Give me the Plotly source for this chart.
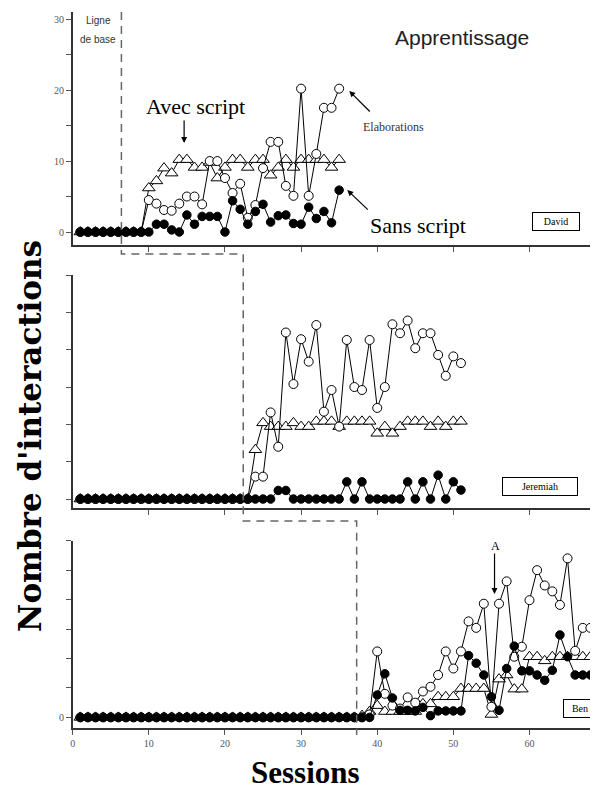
import plotly.graph_objects as go

# ---------------- data ----------------
david_sessions = list(range(1, 36))
david_sans = [0]*10 + [1.1, 1.1, 0.3, 0, 2.4, 1.1, 2.2, 2.2, 2.2, 0, 4.4, 3.2, 1.1, 2.9, 3.9,
                       1.4, 2.3, 2.4, 1.2, 1.1, 3.5, 1.9, 2.9, 1.3, 5.9]
david_elab = [0]*9 + [4.5, 4.0, 3.1, 3.0, 4.0, 5.0, 5.0, 3.9, 10.0, 10.0, 7.6, 5.5, 6.8, 2.0, 3.8,
                      9.0, 12.7, 12.7, 6.5, 5.1, 20.2, 5.1, 11.0, 17.5, 17.5, 20.2]
david_avec = [0]*9 + [6.2, 7.2, 9.0, 8.3, 10.2, 10.2, 9.1, 9.1, 9.8, 7.6, 9.1, 10.2, 10.2, 9.1, 10.2,
                      10.2, 8.0, 9.1, 10.2, 9.1, 10.2, 10.2, 10.2, 10.2, 9.1, 10.2]

jer_sessions = list(range(1, 52))
jer_sans = [0]*26 + [1.15, 1.15] + [0]*7 + [2.3, 0, 2.3, 0, 0, 0, 0, 0, 2.3, 0, 2.3, 0, 3.2, 0, 2.3, 1.2]
jer_elab = [0]*23 + [3.0, 3.0, 11.6, 7.0, 22.3, 15.4, 21.4, 18.4, 23.3, 11.7, 14.6, 9.7, 21.3,
                     15.0, 14.6, 21.3, 12.2, 15.0, 23.4, 22.2, 23.9, 20.2, 22.2, 22.2, 19.3, 16.5, 19.1, 18.2]
jer_avec = [0]*23 + [6.6, 10.2, 9.7, 9.7, 9.7, 10.2, 9.7, 9.7, 10.4, 10.4, 10.4, 9.7, 10.4,
                     10.4, 10.4, 10.4, 8.8, 9.7, 8.8, 9.7, 10.4, 10.4, 10.4, 9.7, 10.4, 9.7, 10.4, 10.4]

ben_sessions = list(range(1, 69))
ben_sans = [0]*39 + [3.8, 7.4, 3.3, 1.2, 1.2, 1.1, 1.7, 0.3, 1.1, 1.1, 1.1, 1.1, 10.5, 9.2, 7.2,
                     3.5, 1.2, 8.3, 12.1, 7.9, 7.9, 7.2, 6.3, 8.0, 14.0, 10.3, 7.2, 7.2, 7.2]
ben_elab = [0]*38 + [0.5, 11.2, 4.0, 2.0, 1.5, 3.4, 2.5, 4.4, 5.2, 7.2, 11.2, 8.3, 11.2, 16.3, 15.2,
                     19.3, 1.8, 19.3, 23.1, 10.3, 12.0, 19.9, 25.0, 22.4, 21.4, 19.1, 27.0, 11.3, 15.2, 15.2]
ben_avec = [0]*37 + [0.3, 1.0, 2.0, 1.0, 1.0, 1.0, 1.0, 1.0, 2.3, 2.3, 3.5, 3.5, 3.5, 4.9, 4.9, 4.9,
                     4.9, 0.5, 6.5, 7.2, 4.8, 4.8, 10.3, 10.3, 9.6, 10.3, 10.3, 10.3, 10.3, 10.3, 10.3]

y_tick_vals = [0, 5, 10, 15, 20, 25, 30]
y_tick_text_top = ["0", "", "10", "", "20", "", "30"]
y_tick_text_bottom = ["0", "", "", "", "", "", ""]
x_tick_vals = [0, 10, 20, 30, 40, 50, 60]
phase_changes = [6.4, 22.4, 37.3]

# ---------------- figure ----------------
OFF = 8  # page body margin
W, H = 598 - OFF, 791 - OFF
def PX(x):
    return (x - OFF) / W
def PY(y):
    return 1 - (y - OFF) / H

fig = go.Figure()

panels = [
    (david_sessions, david_avec, david_elab, david_sans, "x", "y"),
    (jer_sessions, jer_avec, jer_elab, jer_sans, "x2", "y2"),
    (ben_sessions, ben_avec, ben_elab, ben_sans, "x3", "y3"),
]
for s, avec, elab, sans, xa, ya in panels:
    fig.add_trace(go.Scatter(x=s, y=avec, mode="lines+markers", xaxis=xa, yaxis=ya,
                             line=dict(color="black", width=1),
                             marker=dict(symbol="triangle-up", size=11, color="white",
                                         line=dict(color="black", width=1)),
                             showlegend=False, hoverinfo="skip"))
    fig.add_trace(go.Scatter(x=s, y=elab, mode="lines+markers", xaxis=xa, yaxis=ya,
                             line=dict(color="black", width=1),
                             marker=dict(symbol="circle", size=9, color="white",
                                         line=dict(color="black", width=1)),
                             showlegend=False, hoverinfo="skip"))
    fig.add_trace(go.Scatter(x=s, y=sans, mode="lines+markers", xaxis=xa, yaxis=ya,
                             line=dict(color="black", width=1),
                             marker=dict(symbol="circle", size=8.5, color="black",
                                         line=dict(color="black", width=1)),
                             showlegend=False, hoverinfo="skip"))

xdom = [PX(70), 1]
tickfont = dict(family="Liberation Serif", size=10, color="#555")
axis_common = dict(showline=True, linecolor="#333", linewidth=1.5, showgrid=False,
                   zeroline=False, ticks="outside", ticklen=5, tickcolor="#555", tickwidth=1,
                   tickfont=tickfont)

fig.update_layout(
    width=W, height=H, autosize=False,
    margin=dict(l=0, r=0, t=0, b=0),
    paper_bgcolor="white", plot_bgcolor="white",
    xaxis=dict(domain=xdom, range=[0, 69], anchor="y", tickvals=x_tick_vals[1:],
               showticklabels=False, **axis_common),
    xaxis2=dict(domain=xdom, range=[0, 69], anchor="y2", tickvals=x_tick_vals[1:],
                showticklabels=False, **axis_common),
    xaxis3=dict(domain=xdom, range=[0, 69], anchor="y3", tickvals=x_tick_vals,
                ticktext=[str(v) for v in x_tick_vals], **axis_common),
    yaxis=dict(domain=[PY(245), PY(12)], range=[-1.83, 31], anchor="x",
               tickvals=y_tick_vals, ticktext=y_tick_text_top, **axis_common),
    yaxis2=dict(domain=[PY(508), PY(275)], range=[-1.2, 30], anchor="x2",
                tickvals=y_tick_vals, showticklabels=False, **axis_common),
    yaxis3=dict(domain=[PY(728), PY(540.7)], range=[-1.8, 30], anchor="x3",
                tickvals=y_tick_vals, ticktext=y_tick_text_bottom, **axis_common),
)

# dashed phase-change line
p1, p2, p3 = phase_changes
path = (f"M {p1},{PY(12)} L {p1},{PY(254)} L {p2},{PY(254)} L {p2},{PY(521)} "
        f"L {p3},{PY(521)} L {p3},{PY(735)}")
fig.add_shape(type="path", path=path, xref="x", yref="paper",
              line=dict(color="#666", width=1.5, dash="8px,6px"))

serif = "Liberation Serif"
ann = []
def text(x, y, t, size, family=serif, color="black", bold=False, **kw):
    font = dict(family=family, size=size, color=color)
    if bold:
        font["weight"] = "bold"
    ann.append(dict(x=PX(x), y=PY(y), xref="paper", yref="paper", text=t, showarrow=False,
                    xanchor="center", yanchor="middle", font=font, **kw))
def arrow(x0, y0, x1, y1):
    ann.append(dict(x=PX(x1), y=PY(y1), xref="paper", yref="paper", text="",
                    showarrow=True, ax=x0 - x1, ay=y0 - y1, arrowhead=2, arrowsize=1,
                    arrowwidth=1.2, arrowcolor="black", standoff=0, startstandoff=0))

text(96, 20, "Ligne", 10, family="Liberation Sans", color="#333")
text(95, 40, "de base", 10, family="Liberation Sans", color="#333")
text(461, 38, "Apprentissage", 21, family="Liberation Sans", color="#222")
text(193, 106, "Avec script", 22)
arrow(182, 119, 182, 143)
text(392, 127, "Elaborations", 12, color="#333")
arrow(370, 113, 348, 91)
text(417, 225, "Sans script", 22)
arrow(368, 211, 346, 190)
text(556, 221, "David", 10, bordercolor="black", borderwidth=1, borderpad=3,
     bgcolor="white", width=40)
text(540, 486, "Jeremiah", 10, bordercolor="black", borderwidth=1, borderpad=3,
     bgcolor="white", width=68)
text(580, 708, "Ben", 10, bordercolor="black", borderwidth=1, borderpad=3,
     bgcolor="white", width=26)
text(495, 546, "A", 12)
arrow(494, 552, 494, 594)

text(27, 436, "Nombre d'interactions", 31, family="DejaVu Serif", bold=True, textangle=-90)
text(304, 772, "Sessions", 31, family=serif, bold=True)

fig.update_layout(annotations=ann)
fig.write_html("out.html")
